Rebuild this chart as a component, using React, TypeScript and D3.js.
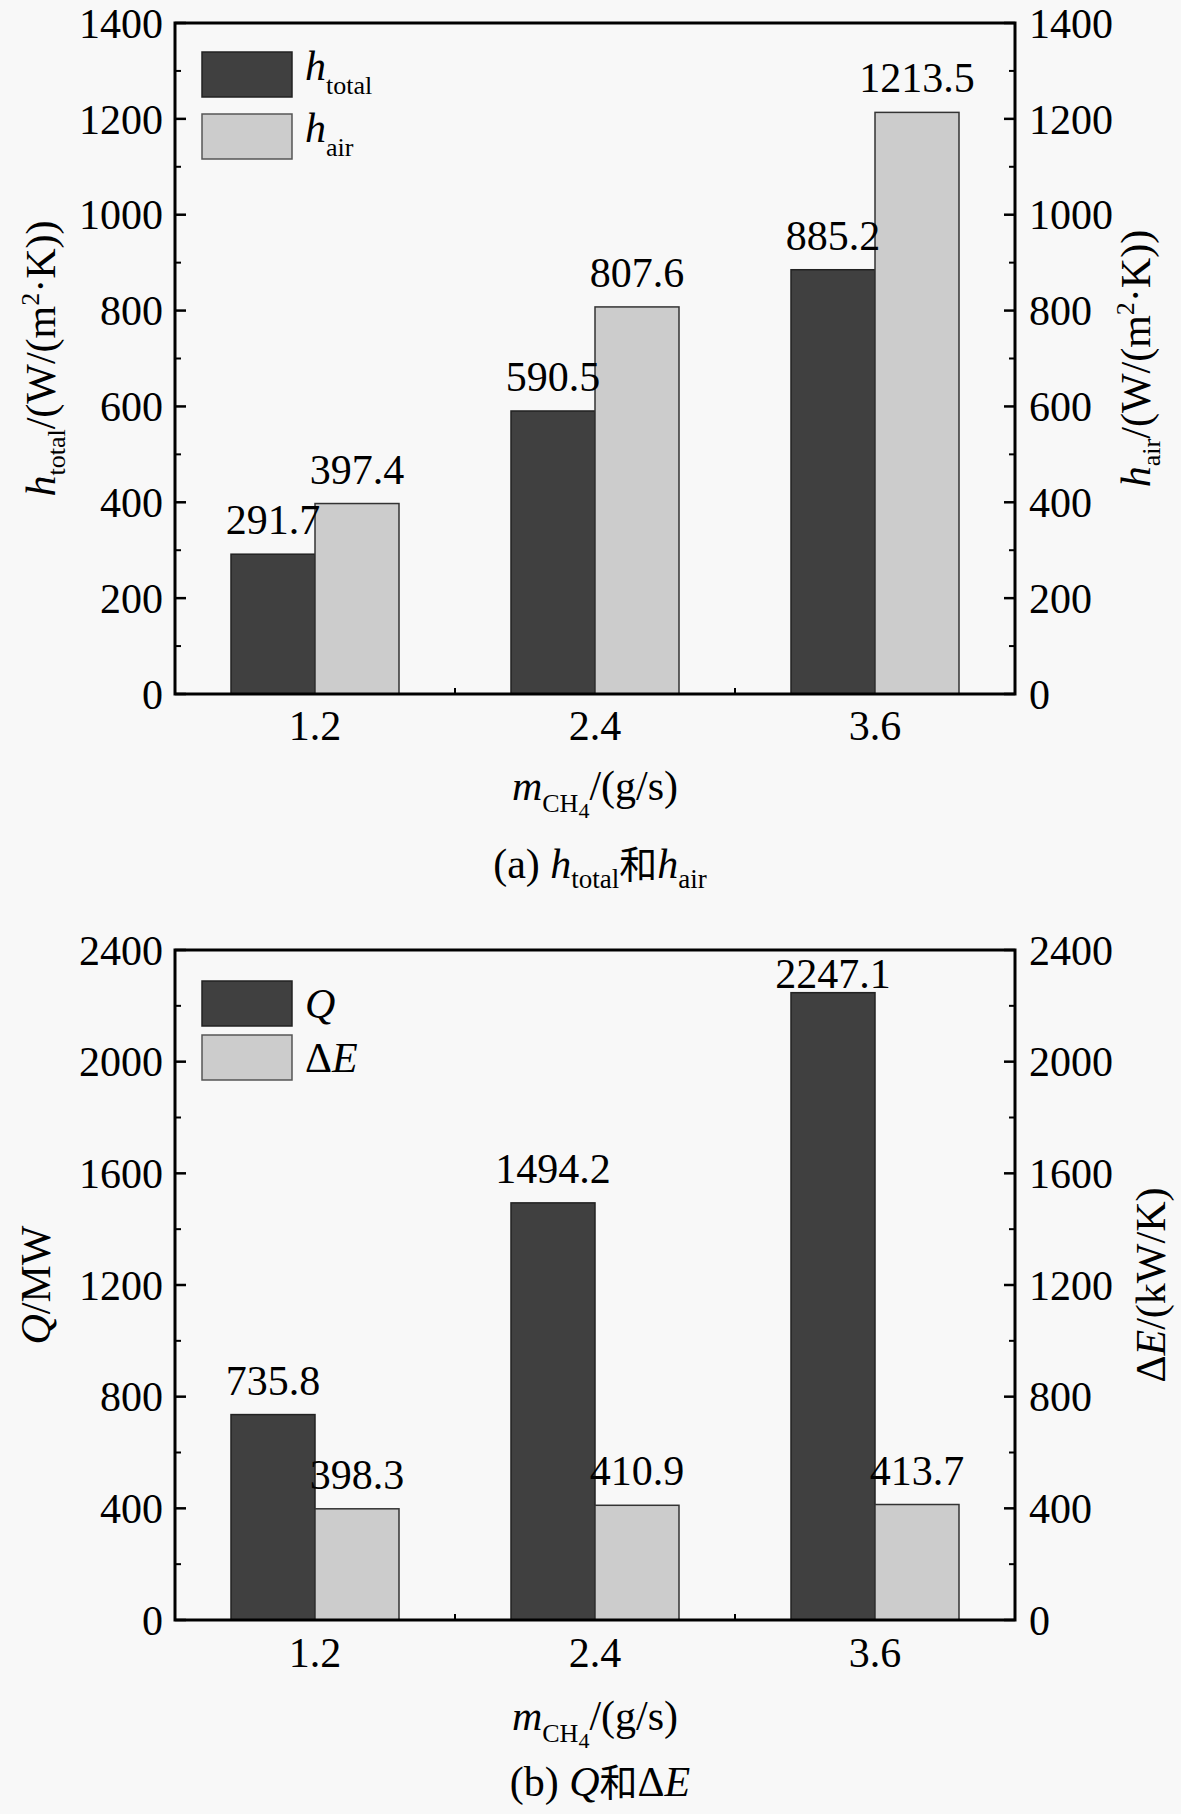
import * as d3 from "d3";

// categories and values
const massFlow = ["1.2", "2.4", "3.6"];
const hTotal = [291.7, 590.5, 885.2];
const hAir = [397.4, 807.6, 1213.5];
const heatQ = [735.8, 1494.2, 2247.1];
const deltaE = [398.3, 410.9, 413.7];

const hTicks = [0, 200, 400, 600, 800, 1000, 1200, 1400];
const qTicks = [0, 400, 800, 1200, 1600, 2000, 2400];

const SERIF = "Liberation Serif, Times New Roman, serif";
const CJK = "Noto Sans CJK SC, sans-serif";
const DARK = "#404040";
const LIGHT = "#cccccc";
const BG = "#f8f8f8";

const W = 1181;
const H = 1814;
const LEFT = 175;
const RIGHT = 1015;

const serif = { fontFamily: SERIF };

type Seg = { t: string; it?: boolean; sub?: number; sup?: number; size?: number; font?: string };

// draws a run of text pieces with italic / sub / superscripts
function Rich({ segs, size }: { segs: Seg[]; size: number }) {
  let shift = 0;
  return (
    <>
      {segs.map((s, i) => {
        const target = s.sub ? s.sub : s.sup ? -s.sup : 0;
        const dy = target - shift;
        shift = target;
        return (
          <tspan
            key={i}
            dy={dy}
            style={{
              fontStyle: s.it ? "italic" : "normal",
              fontSize: s.size ?? size,
              fontFamily: s.font ?? SERIF,
            }}
          >
            {s.t}
          </tspan>
        );
      })}
    </>
  );
}

type PanelProps = {
  top: number;
  bottom: number;
  seriesA: number[];
  seriesB: number[];
  ticks: number[];
  minorStep: number;
  leftTitle: Seg[];
  rightTitle: Seg[];
  leftTitleX: number;
  rightTitleX: number;
  legendA: Seg[];
  legendB: Seg[];
  legendY: [number, number];
  legendDy: number;
  caption: Seg[];
  tickBaseline: number;
  xTitleBaseline: number;
  captionBaseline: number;
};

function Panel(p: PanelProps) {
  const yMax = p.ticks[p.ticks.length - 1];
  const x = d3.scaleBand<string>().domain(massFlow).range([LEFT, RIGHT]);
  const y = d3.scaleLinear().domain([0, yMax]).range([p.bottom, p.top]);
  const bw = x.bandwidth() * 0.3;
  const minor = d3.range(p.minorStep, yMax, p.minorStep * 2);
  const midY = (p.top + p.bottom) / 2;
  const cx = (LEFT + RIGHT) / 2;

  const labelY = (v: number) => Math.max(y(v) - 20, p.top + 38);

  return (
    <g>
      {/* bars */}
      {massFlow.map((c, i) => {
        const c0 = (x(c) ?? 0) + x.bandwidth() / 2;
        return (
          <g key={c}>
            <rect
              x={c0 - bw}
              y={y(p.seriesA[i])}
              width={bw}
              height={p.bottom - y(p.seriesA[i])}
              fill={DARK}
              stroke="#222"
              strokeWidth={1.5}
            />
            <rect
              x={c0}
              y={y(p.seriesB[i])}
              width={bw}
              height={p.bottom - y(p.seriesB[i])}
              fill={LIGHT}
              stroke="#333"
              strokeWidth={1.5}
            />
            <text x={c0 - bw / 2} y={labelY(p.seriesA[i])} textAnchor="middle" fontSize={42} style={serif}>
              {p.seriesA[i].toFixed(1)}
            </text>
            <text x={c0 + bw / 2} y={labelY(p.seriesB[i])} textAnchor="middle" fontSize={42} style={serif}>
              {p.seriesB[i].toFixed(1)}
            </text>
          </g>
        );
      })}

      {/* frame */}
      <rect x={LEFT} y={p.top} width={RIGHT - LEFT} height={p.bottom - p.top} fill="none" stroke="#000" strokeWidth={3} />

      {/* y ticks, both sides, inward */}
      {p.ticks.map((t) => (
        <g key={t}>
          <line x1={LEFT} x2={LEFT + 11} y1={y(t)} y2={y(t)} stroke="#000" strokeWidth={2.5} />
          <line x1={RIGHT} x2={RIGHT - 11} y1={y(t)} y2={y(t)} stroke="#000" strokeWidth={2.5} />
          <text x={LEFT - 12} y={y(t)} dy="0.35em" textAnchor="end" fontSize={42} style={serif}>
            {t}
          </text>
          <text x={RIGHT + 14} y={y(t)} dy="0.35em" textAnchor="start" fontSize={42} style={serif}>
            {t}
          </text>
        </g>
      ))}
      {minor.map((t) => (
        <g key={"m" + t}>
          <line x1={LEFT} x2={LEFT + 6} y1={y(t)} y2={y(t)} stroke="#000" strokeWidth={2} />
          <line x1={RIGHT} x2={RIGHT - 6} y1={y(t)} y2={y(t)} stroke="#000" strokeWidth={2} />
        </g>
      ))}

      {/* x ticks: minor at band edges, labels at centres */}
      {massFlow.slice(1).map((c) => (
        <line key={"b" + c} x1={x(c)} x2={x(c)} y1={p.bottom} y2={p.bottom - 6} stroke="#000" strokeWidth={2} />
      ))}
      {massFlow.map((c) => (
        <text
          key={"l" + c}
          x={(x(c) ?? 0) + x.bandwidth() / 2}
          y={p.tickBaseline}
          textAnchor="middle"
          fontSize={42}
          style={serif}
        >
          {c}
        </text>
      ))}

      {/* axis titles */}
      <text x={cx} y={p.xTitleBaseline} textAnchor="middle" fontSize={42} style={serif}>
        <Rich
          size={42}
          segs={[
            { t: "m", it: true },
            { t: "CH", sub: 12, size: 26 },
            { t: "4", sub: 18, size: 22 },
            { t: "/(g/s)" },
          ]}
        />
      </text>
      <text transform={`translate(${p.leftTitleX},${midY}) rotate(-90)`} textAnchor="middle" fontSize={42} style={serif}>
        <Rich size={42} segs={p.leftTitle} />
      </text>
      <text transform={`translate(${p.rightTitleX},${midY}) rotate(-90)`} textAnchor="middle" fontSize={42} style={serif}>
        <Rich size={42} segs={p.rightTitle} />
      </text>

      {/* legend */}
      <rect x={202} y={p.top + p.legendY[0]} width={90} height={45} fill={DARK} stroke="#222" strokeWidth={1.5} />
      <rect x={202} y={p.top + p.legendY[1]} width={90} height={45} fill={LIGHT} stroke="#555" strokeWidth={1.5} />
      <text x={305} y={p.top + p.legendY[0] + 22 + p.legendDy} fontSize={42} style={serif}>
        <Rich size={42} segs={p.legendA} />
      </text>
      <text x={305} y={p.top + p.legendY[1] + 22 + p.legendDy} fontSize={42} style={serif}>
        <Rich size={42} segs={p.legendB} />
      </text>

      {/* caption */}
      <text x={cx + 5} y={p.captionBaseline} textAnchor="middle" fontSize={42} style={serif}>
        <Rich size={42} segs={p.caption} />
      </text>
    </g>
  );
}

export default function App() {
  return (
    <svg width={W} height={H} style={{ position: "absolute", left: 0, top: 0, fontFamily: SERIF }}>
      <rect width={W} height={H} fill={BG} />
      <Panel
        top={23}
        bottom={694}
        seriesA={hTotal}
        seriesB={hAir}
        ticks={hTicks}
        minorStep={100}
        leftTitleX={55}
        rightTitleX={1150}
        leftTitle={[
          { t: "h", it: true },
          { t: "total", sub: 10, size: 26 },
          { t: "/(W/(m" },
          { t: "2", sup: 16, size: 26 },
          { t: "·K))" },
        ]}
        rightTitle={[
          { t: "h", it: true },
          { t: "air", sub: 10, size: 26 },
          { t: "/(W/(m" },
          { t: "2", sup: 16, size: 26 },
          { t: "·K))" },
        ]}
        legendA={[{ t: "h", it: true }, { t: "total", sub: 14, size: 26 }]}
        legendB={[{ t: "h", it: true }, { t: "air", sub: 14, size: 26 }]}
        legendY={[29, 91]}
        legendDy={6}
        caption={[
          { t: "(a) " },
          { t: "h", it: true },
          { t: "total", sub: 10, size: 27 },
          { t: "和", font: CJK, size: 38 },
          { t: "h", it: true },
          { t: "air", sub: 10, size: 27 },
        ]}
        tickBaseline={740}
        xTitleBaseline={800}
        captionBaseline={878}
      />
      <Panel
        top={950}
        bottom={1620}
        seriesA={heatQ}
        seriesB={deltaE}
        ticks={qTicks}
        minorStep={200}
        leftTitleX={50}
        rightTitleX={1165}
        leftTitle={[{ t: "Q", it: true }, { t: "/MW" }]}
        rightTitle={[{ t: "Δ" }, { t: "E", it: true }, { t: "/(kW/K)" }]}
        legendA={[{ t: "Q", it: true }]}
        legendB={[{ t: "Δ" }, { t: "E", it: true }]}
        legendY={[31, 85]}
        legendDy={15}
        caption={[
          { t: "(b) " },
          { t: "Q", it: true },
          { t: "和", font: CJK, size: 38 },
          { t: "Δ" },
          { t: "E", it: true },
        ]}
        tickBaseline={1667}
        xTitleBaseline={1730}
        captionBaseline={1796}
      />
    </svg>
  );
}
